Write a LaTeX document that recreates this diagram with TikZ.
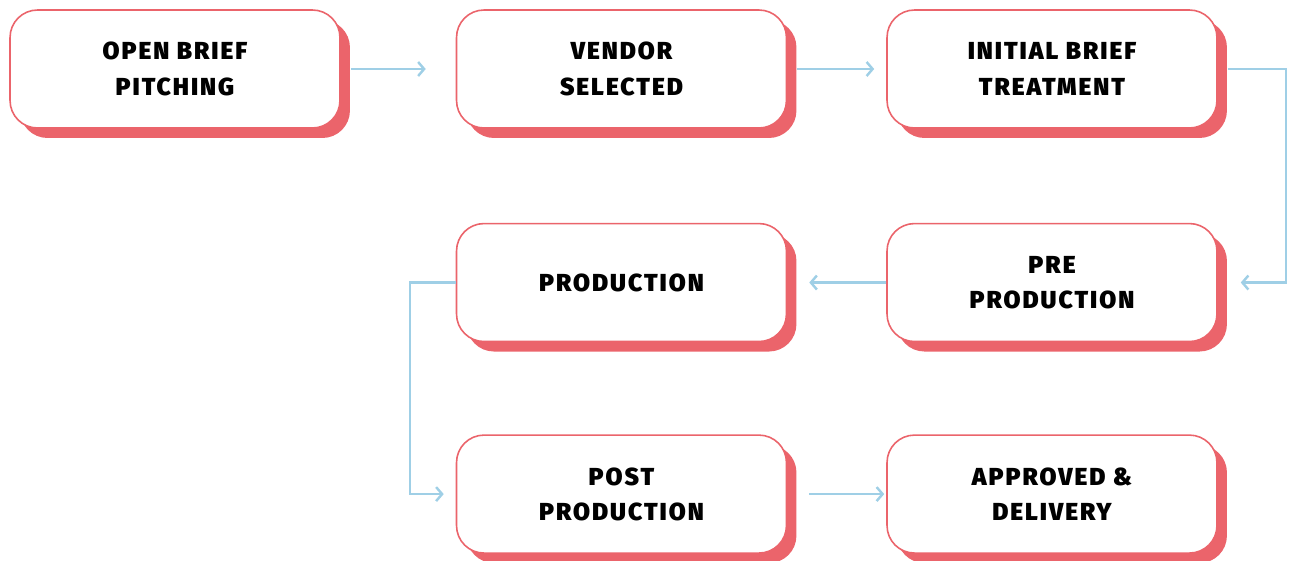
\documentclass[tikz,border=0pt]{standalone}
\usepackage{fontspec}
\setmainfont{Fira Sans}
\newfontfamily\stepfont[LetterSpace=8]{Fira Sans Black}
\usetikzlibrary{arrows.meta}
\usetikzlibrary{positioning}
\usetikzlibrary{shadows}
\definecolor{boxred}{HTML}{EB646B}
\definecolor{flowblue}{HTML}{9FCFE6}

\begin{document}
\begin{tikzpicture}[
    x=0.02cm, y=-0.02cm,
    node distance=1.98cm,
    stepbox/.style={
        draw=boxred, fill=white, line width=0.9pt,
        rounded corners=0.55cm,
        minimum width=6.6cm,
        minimum height=2.36cm,
        font=\stepfont\fontsize{14}{20}\selectfont,
        align=center,
        drop shadow={shadow xshift=0.2cm, shadow yshift=-0.2cm, fill=boxred, opacity=1}
    },
    flow/.style={
        draw=flowblue, line width=1.4pt,
        -{Straight Barb[length=1.2mm, width=2.8mm]}
    }
]
\useasboundingbox (0,0) rectangle (1289,561);
\node[stepbox] (open) at (175,69) {OPEN BRIEF \\ PITCHING};
\node[stepbox, right=2.3cm of open] (vendor) {VENDOR \\ SELECTED};
\node[stepbox, right=of vendor] (treat) {INITIAL BRIEF \\ TREATMENT};
\node[stepbox, below=1.88cm of treat] (pre) {PRE \\ PRODUCTION};
\node[stepbox, left=of pre] (prod) {PRODUCTION};
\node[stepbox, below=1.84cm of prod] (post) {POST \\ PRODUCTION};
\node[stepbox, right=of post] (done) {APPROVED \& \\ DELIVERY};
\coordinate[right=1.36cm of treat.east] (turnA);
\coordinate[left=0.92cm of prod.west] (turnB);
\draw[flow, shorten <=0.2cm, shorten >=0.6cm] (open) -- (vendor);
\draw[flow, shorten <=0.2cm, shorten >=0.24cm] (vendor) -- (treat);
\draw[flow] ([xshift=0.2cm]treat.east) -- (turnA) |- ([xshift=0.46cm]pre.east);
\draw[flow, shorten >=0.44cm] (pre.west) -- (prod.east);
\draw[flow] (prod.west) -- (turnB) |- ([xshift=-0.24cm]post.west);
\draw[flow, shorten <=0.44cm, shorten >=0.04cm] (post) -- (done);
\end{tikzpicture}
\end{document}
